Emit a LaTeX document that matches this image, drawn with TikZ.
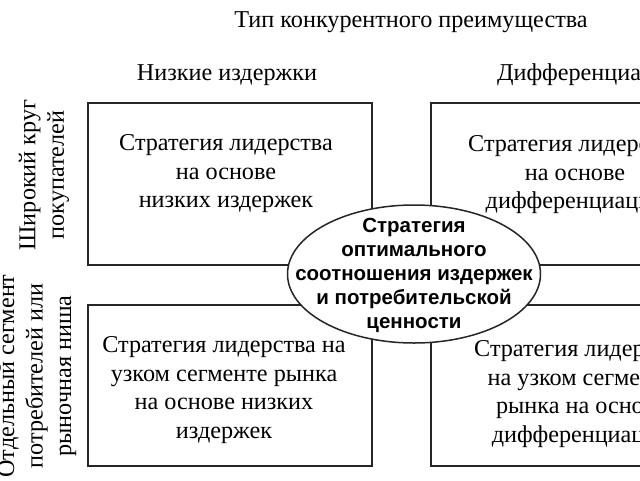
\documentclass[tikz,border=0pt]{standalone}
\usepackage{fontspec}
\setmainfont{Liberation Serif}
\newfontfamily\ellfont{Liberation Sans}
\usetikzlibrary{shapes.geometric}
\begin{document}
\begin{tikzpicture}[x=1pt,y=-1pt,
  box/.style={draw=black!85, line width=2pt, minimum width=284pt, minimum height=162pt, inner sep=0pt},
  txt/.style={font=\fontsize{24.2}{28.5}\selectfont, align=center, inner sep=0pt},
  hdr/.style={font=\fontsize{24.2}{28.5}\selectfont, inner sep=0pt},
  side/.style={font=\fontsize{24.2}{28.5}\selectfont, align=center, rotate=90, inner sep=0pt},
  ell/.style={draw=black!85, line width=1.5pt, fill=white, ellipse, minimum width=253pt, minimum height=138pt, inner sep=0pt},
  elltxt/.style={font=\ellfont\bfseries\fontsize{20.5}{24}\selectfont, align=center, inner sep=0pt}]
\useasboundingbox (0,0) rectangle (640,480);
\clip (0,0) rectangle (640,480);
\fill[white] (0,0) rectangle (640,480);

\node[hdr] (title) at (411,22) {Тип конкурентного преимущества};
\node[hdr] (low) at (227,75) {Низкие издержки};
\node[hdr, anchor=west] (diff) at (497,75) {Дифференциация};

\node[side] (broad) at (44,175) {Широкий круг\\покупателей};
\node[side] (narrow) at (37,376) {Отдельный сегмент\\потребителей или\\рыночная ниша};

\node[box] (tl) at (230,184) {};
\node[box] (tr) at (573,184) {};
\node[box, minimum height=161pt] (bl) at (229.5,385.5) {};
\node[box, minimum height=161pt] (br) at (573,385.5) {};

\node[txt] (tltxt) at (226,174) {Стратегия лидерства\\на основе\\низких издержек};
\node[txt] (trtxt) at (575,175) {Стратегия лидерства\\на основе\\дифференциации};
\node[txt] (bltxt) at (224,390) {Стратегия лидерства на\\узком сегменте рынка\\на основе низких\\издержек};
\node[txt] (brtxt) at (581,394) {Стратегия лидерства\\на узком сегменте\\рынка на основе\\дифференциации};

\node[ell] (opt) at (414,274) {};
\node[elltxt] (opttxt) at (414,275) {Стратегия\\оптимального\\соотношения издержек\\и потребительской\\ценности};
\end{tikzpicture}
\end{document}
